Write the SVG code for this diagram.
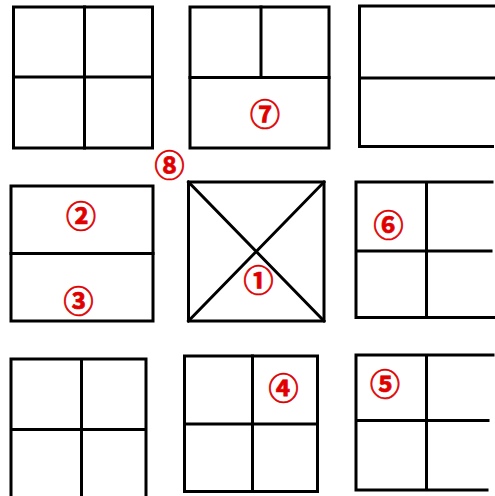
<svg xmlns="http://www.w3.org/2000/svg" width="495" height="496" viewBox="0 0 495 496">
<style>
.b{fill:none;stroke:#000;stroke-width:3;stroke-linecap:square}
.l{fill:#e00000;stroke:#e00000;stroke-width:0.7;font-family:"Noto Sans CJK JP",sans-serif;font-weight:bold;font-size:30px;text-anchor:middle;dominant-baseline:central}
</style>
<rect width="495" height="496" fill="#fff"/>
<g id="panel1"><rect class="b" x="13.5" y="7" width="139" height="141"/><path class="b" d="M84.5 7V148M13.5 77H152.5"/></g>
<g id="panel2"><rect class="b" x="190" y="7" width="139" height="141"/><path class="b" d="M261 7V77.5M190 77.5H329"/></g>
<g id="panel3"><path class="b" d="M495 6H359.5V146.5H492.5M359.5 78H495"/></g>
<g id="panel4"><rect class="b" x="11" y="186" width="142" height="135"/><path class="b" d="M11 253.5H153"/></g>
<g id="panel5"><rect class="b" x="188.5" y="182" width="135.5" height="139"/><path class="b" d="M188.5 182L324 321M324 182L188.5 321"/></g>
<g id="panel6"><path class="b" d="M492 182H356V317.5H495M356 251H491M426.5 182V317.5"/></g>
<g id="panel7"><path class="b" d="M11 497V359H146V497M81.5 359V497M11 429.5H146"/></g>
<g id="panel8"><rect class="b" x="184.5" y="356" width="133" height="135.5"/><path class="b" d="M252.5 356V491.5M184.5 424H317.5"/></g>
<g id="panel9"><path class="b" d="M493 355H356V490H487M356 420.5H488M426.5 355V490"/></g>
<g id="labels">
<text class="l" x="258.5" y="277.5">①</text>
<text class="l" x="81" y="213.5">②</text>
<text class="l" x="78.5" y="298.5">③</text>
<text class="l" x="283.5" y="386">④</text>
<text class="l" x="385" y="381.5">⑤</text>
<text class="l" x="388.5" y="222.5">⑥</text>
<text class="l" x="265" y="112">⑦</text>
<text class="l" x="169.5" y="162.5">⑧</text>
</g>
</svg>
